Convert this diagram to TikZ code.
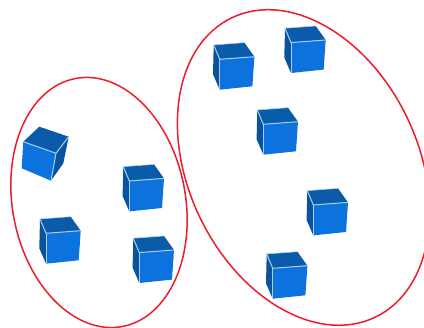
\documentclass[tikz,border=0pt]{standalone}
\usepackage{tikz}
\definecolor{ringcol}{HTML}{EC1C2A}
\definecolor{facetop}{HTML}{0A5CAA}
\definecolor{facefront}{HTML}{0C72DE}
\definecolor{faceside}{HTML}{09529E}
\definecolor{edgecol}{HTML}{A9CFF2}
\tikzset{
  ring/.style={draw=ringcol, line width=1.5pt},
  ftop/.style={fill=facetop},
  ffront/.style={fill=facefront},
  fside/.style={fill=faceside},
  ridge/.style={draw=edgecol, line width=1pt, line join=round},
  cube/.pic={
    \fill[ftop] (0,0)--(30.7,-2.3)--(40.7,11.7)--(6,14.3)--cycle;
    \fill[ffront] (6,14.3)--(40.7,11.7)--(38.7,41.3)--(6,44.7)--cycle;
    \fill[fside] (0,0)--(6,14.3)--(6,44.7)--(-0.7,29.3)--cycle;
    \draw[ridge] (0,0)--(6,14.3)--(40.7,11.7);
    \draw[ridge] (6,14.3)--(6,44.7);
    \draw[ridge, line width=0.5pt] (0,0)--(30.7,-2.3);
  }}
\begin{document}
\begin{tikzpicture}[x=1pt, y=-1pt]
  \useasboundingbox (0,0) rectangle (424,328);
  % rings
  \draw[ring, rotate around={10.7:(99,202.5)}] (99,202.5) ellipse [x radius=86.5, y radius=126.2];
  \draw[ring, rotate around={25.6:(303.5,167.5)}] (303.5,167.5) ellipse [x radius=115, y radius=166];
  % upright cubes
  \foreach \x/\y in {123.3/166.7, 40/219, 133.3/238.3, 213.7/45, 285/28.3, 257.3/110, 307.3/190.7, 266.7/254}
    \pic at (\x,\y) {cube};
  % tilted cube
  \fill[ftop] (23.3,141.7)--(39.3,126.7)--(68.7,136.7)--(56,153.3)--cycle;
  \fill[ffront] (23.3,141.7)--(56,153.3)--(51,180.7)--(21.7,168.3)--cycle;
  \fill[fside] (56,153.3)--(68.7,136.7)--(63.3,163.3)--(51,180.7)--cycle;
  \draw[ridge] (23.3,141.7)--(56,153.3)--(68.7,136.7);
  \draw[ridge] (56,153.3)--(51,180.7);
\end{tikzpicture}
\end{document}
